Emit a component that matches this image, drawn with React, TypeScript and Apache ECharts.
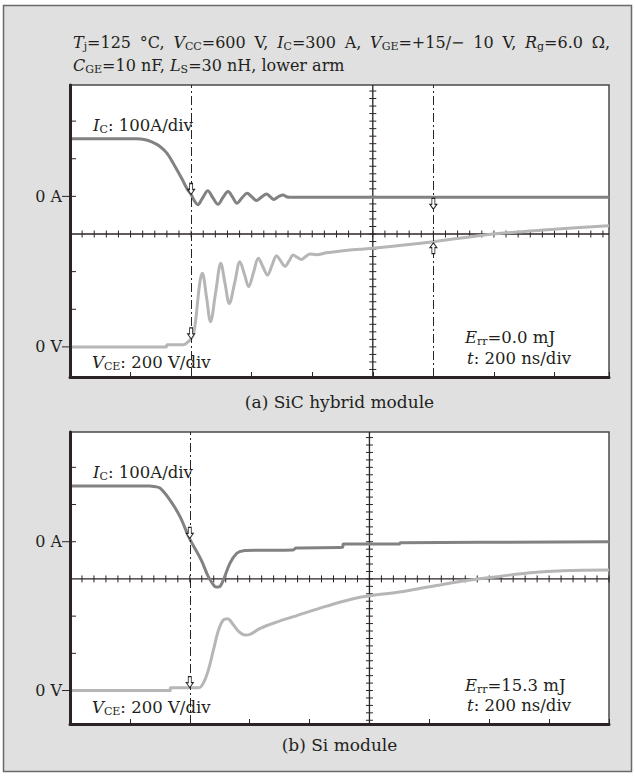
import React, { useEffect, useRef } from 'react';
import * as echarts from 'echarts';

const FONT = 'DejaVu Serif';
const INK = '#231f20';
const AXIS = '#2b2324';
const IC_COLOR = '#828282';
const VCE_COLOR = '#b6b6b6';

// ---------- data: time in ns (200 ns/div), IC in A (100 A/div), VCE in V (200 V/div)
// (a) SiC hybrid module
const timeRangeA = [-1000, 780];
const icA: number[][] = [
  [-1000, 153], [-780, 153], [-755, 151], [-730, 145], [-705, 134], [-680, 115], [-655, 82],
  [-630, 46], [-612, 18], [-600, 5], [-589, -12], [-578, -22], [-562, -4], [-545, 15],
  [-528, -4], [-511, -21], [-495, -3], [-478, 13], [-463, -2], [-449, -18], [-432, -4],
  [-415, 8], [-400, -1], [-384, -11], [-368, -2], [-351, 6], [-339, -1], [-327, -8],
  [-312, -1], [-296, 4], [-285, -1], [-274, -2.4], [780, -2.4],
];
const vceA: number[][] = [
  [-1000, 0], [-682, 0], [-680, 12], [-625, 12], [-612, 25], [-600, 42], [-592, 70],
  [-585, 140], [-578, 249], [-570, 355], [-563, 391], [-549, 262], [-536, 134], [-519, 289],
  [-502, 444], [-488, 337], [-474, 231], [-456, 342], [-439, 453], [-424, 386], [-410, 320],
  [-394, 395], [-378, 471], [-363, 426], [-348, 382], [-333, 433], [-318, 485], [-304, 456],
  [-290, 428], [-276, 458], [-263, 488], [-249, 476], [-236, 465], [-222, 480], [-208, 494],
  [-186, 490], [-153, 500], [-76, 515], [-43, 519], [0, 524], [200, 559], [397, 600],
  [600, 625], [780, 644],
];
const dashTimesA = [-600, 200];
const arrowsA = [
  { trace: 'ic', t: -600, v: 5, dir: 'down', side: 'above' },
  { trace: 'ic', t: 200, v: -2.4, dir: 'down', side: 'below' },
  { trace: 'vce', t: -600, v: 42, dir: 'down', side: 'above' },
  { trace: 'vce', t: 200, v: 559, dir: 'up', side: 'below' },
];
const errA = '0.0';

// (b) Si module
const timeRangeB = [-1000, 800];
const icB: number[][] = [
  [-1000, 150], [-735, 150], [-715, 148], [-699, 144], [-666, 112], [-633, 68], [-601, 9],
  [-562, -49], [-538, -94], [-521, -116], [-512, -122], [-501, -121], [-488, -103],
  [-466, -58], [-443, -31], [-421, -24], [-363, -23], [-255, -22], [-245, -17], [-90, -15],
  [-87, -6], [100, -6], [103, -3], [800, 0],
];
const vceB: number[][] = [
  [-1000, 0], [-666, 0], [-664, 15], [-570, 15], [-555, 39], [-538, 110], [-521, 218],
  [-504, 325], [-488, 379], [-473, 386], [-462, 370], [-454, 352], [-435, 315], [-415, 298],
  [-395, 305], [-365, 334], [-310, 368], [-254, 397], [-143, 454], [-31, 501], [100, 530],
  [202, 558], [336, 594], [440, 615], [536, 633], [647, 644], [800, 648],
];
const dashTimesB = [-600];
const arrowsB = [
  { trace: 'ic', t: -600, v: 9, dir: 'down', side: 'above' },
  { trace: 'vce', t: -600, v: 15, dir: 'down', side: 'above' },
];
const errB = '15.3';

const captions = ['(a) SiC hybrid module', '(b) Si module'];
const icPerDiv = 100;
const vcePerDiv = 200;
const icZeroDiv = 1;
const vceZeroDiv = -3;

const panels = [
  { range: timeRangeA, ic: icA, vce: vceA, dash: dashTimesA, arrows: arrowsA, err: errA },
  { range: timeRangeB, ic: icB, vce: vceB, dash: dashTimesB, arrows: arrowsB, err: errB },
];

// ---------- layout (pixels)
const layouts = [
  { top: 85, height: 292, divMin: -3.8, divMax: 3.96, captionY: 402, icY: 125, vceY: 362, errY: 337, tY: 358 },
  { top: 432, height: 292, divMin: -3.9, divMax: 3.95, captionY: 745, icY: 472, vceY: 707, errY: 685, tY: 705 },
];

const DOWN = 'path://M2,0L5,0L5,6L7,6L3.5,11L0,6L2,6Z';
const UP = 'path://M3.5,0L7,5L5,5L5,11L2,11L2,5L0,5Z';

function richFor(size: number) {
  return {
    n: { fontFamily: FONT, fontSize: size, fill: INK, lineHeight: 20 },
    i: { fontFamily: FONT, fontSize: size, fill: INK, fontStyle: 'italic', lineHeight: 20 },
    s: { fontFamily: FONT, fontSize: 11, fill: INK, lineHeight: 12, verticalAlign: 'bottom' },
    w: { fontFamily: FONT, fontSize: size, fill: INK, lineHeight: 20, width: 8.8 },
  };
}

function txt(x: number, y: number, text: string, align = 'left', size = 16.5) {
  return {
    type: 'text', x, y, z: 10,
    style: { text, rich: richFor(size), fontFamily: FONT, fontSize: size, fill: INK, align, verticalAlign: 'middle' },
  };
}

function arrowPoint(a: any) {
  return {
    coord: [a.t, a.v],
    symbol: a.dir === 'down' ? DOWN : UP,
    symbolSize: [7, 11],
    symbolOffset: [0, a.side === 'above' ? -5.5 : 6.5],
    itemStyle: { color: '#fff', borderColor: '#222', borderWidth: 1 },
  };
}

function buildOption() {
  const grid: any[] = [];
  const xAxis: any[] = [];
  const yAxis: any[] = [];
  const series: any[] = [];
  const W = '{w| }';
  const elements: any[] = [
    { type: 'rect', z: -100, shape: { x: 3.5, y: 5.5, width: 628, height: 766 },
      style: { fill: '#dfe0df', stroke: '#6a6a6a', lineWidth: 1.5 } },
    txt(73, 42, `{i|T}{s|j}{n|=125}${W}{n|°C,}${W}{i|V}{s|CC}{n|=600}${W}{n|V,}${W}{i|I}{s|C}{n|=300}${W}{n|A,}${W}{i|V}{s|GE}{n|=+15/−}${W}{n|10}${W}{n|V,}${W}{i|R}{s|g}{n|=6.0}${W}{n|Ω,}`, 'left', 16),
    txt(73, 65, '{i|C}{s|GE}{n|=10 nF, }{i|L}{s|S}{n|=30 nH, lower arm}', 'left', 16),
  ];

  panels.forEach((p, g) => {
    const L = layouts[g];
    grid.push({ left: 70, top: L.top, width: 539, height: L.height, show: true,
      backgroundColor: '#ffffff', borderColor: '#4a4a4a', borderWidth: 1.5 });
    xAxis.push({
      type: 'value', gridIndex: g, min: p.range[0], max: p.range[1], interval: 200, z: 5,
      axisLine: { show: true, onZero: false, lineStyle: { color: AXIS, width: 3 } },
      axisTick: { show: true, inside: true, length: 5, lineStyle: { color: AXIS, width: 1 } },
      axisLabel: { show: false }, splitLine: { show: false },
    });
    const yb = yAxis.length;
    yAxis.push({
      type: 'value', gridIndex: g, min: L.divMin, max: L.divMax, position: 'left', z: 5,
      axisLine: { show: true, onZero: false, lineStyle: { color: AXIS, width: 3 } },
      axisTick: { show: false }, axisLabel: { show: false }, splitLine: { show: false },
    });
    yAxis.push({ type: 'value', gridIndex: g, show: false,
      min: (L.divMin - icZeroDiv) * icPerDiv, max: (L.divMax - icZeroDiv) * icPerDiv });
    yAxis.push({ type: 'value', gridIndex: g, show: false,
      min: (L.divMin - vceZeroDiv) * vcePerDiv, max: (L.divMax - vceZeroDiv) * vcePerDiv });

    // graticule: centre cross with 0.2 div ticks, left-edge ticks, 0 A / 0 V labels
    series.push({
      type: 'custom', xAxisIndex: g, yAxisIndex: yb, data: [[0, 0]], silent: true, z: 1, clip: false,
      renderItem: (params: any, api: any) => {
        const kids: any[] = [];
        const ln = (x1: number, y1: number, x2: number, y2: number, w = 1) =>
          kids.push({ type: 'line', shape: { x1, y1, x2, y2 }, style: { stroke: AXIS, lineWidth: w } });
        const [xl, yc] = api.coord([p.range[0], 0]);
        const [xr] = api.coord([p.range[1], 0]);
        const [xc, yt] = api.coord([0, L.divMax]);
        const [, ybt] = api.coord([0, L.divMin]);
        ln(xl, yc, xr, yc, 1.3);
        ln(xc, yt, xc, ybt, 1.3);
        const step = 200 / 5;
        for (let k = Math.ceil(p.range[0] / step); k * step <= p.range[1]; k++) {
          const [x] = api.coord([k * step, 0]);
          ln(x, yc - 3.5, x, yc + 3.5, 1);
        }
        for (let k = Math.ceil(L.divMin / 0.2 - 1e-9); k * 0.2 <= L.divMax + 1e-9; k++) {
          const [, y] = api.coord([0, k * 0.2]);
          ln(xc - 3.5, y, xc + 3.5, y, 1);
        }
        for (let d = -3; d <= 3; d++) {
          if (d === 0) continue;
          const [, y] = api.coord([p.range[0], d]);
          const lab = d === icZeroDiv || d === vceZeroDiv;
          ln(lab ? xl - 8 : xl, y, xl + 6, y, 1);
          if (lab) {
            kids.push({ type: 'text', x: xl - 8, y,
              style: { text: d === icZeroDiv ? '0 A' : '0 V', fill: INK, fontFamily: FONT,
                fontSize: 16, align: 'right', verticalAlign: 'middle' } });
          }
        }
        return { type: 'group', children: kids };
      },
    });

    series.push({
      type: 'line', name: 'IC', xAxisIndex: g, yAxisIndex: yb + 1, data: p.ic,
      showSymbol: false, smooth: 0.35, z: 3,
      lineStyle: { color: IC_COLOR, width: 3 },
      markLine: {
        silent: true, symbol: ['none', 'none'], label: { show: false },
        lineStyle: { color: AXIS, width: 1, type: [9, 3, 2, 3] },
        data: p.dash.map((t) => ({ xAxis: t })),
      },
      markPoint: {
        silent: true, label: { show: false },
        data: p.arrows.filter((a) => a.trace === 'ic').map(arrowPoint),
      },
    });
    series.push({
      type: 'line', name: 'VCE', xAxisIndex: g, yAxisIndex: yb + 2, data: p.vce,
      showSymbol: false, smooth: 0.35, z: 3,
      lineStyle: { color: VCE_COLOR, width: 3 },
      markPoint: {
        silent: true, label: { show: false },
        data: p.arrows.filter((a) => a.trace === 'vce').map(arrowPoint),
      },
    });

    elements.push(txt(339.5, L.captionY, `{n|${captions[g]}}`, 'center', 17));
    elements.push(txt(93, L.icY, '{i|I}{s|C}{n|: 100A/div}'));
    elements.push(txt(92, L.vceY, '{i|V}{s|CE}{n|: 200 V/div}'));
    elements.push(txt(465, L.errY, `{i|E}{s|rr}{n|=${p.err} mJ}`));
    elements.push(txt(467, L.tY, '{i|t}{n|: 200 ns/div}'));
  });

  return {
    animation: false,
    backgroundColor: '#ffffff',
    grid, xAxis, yAxis, series,
    graphic: { elements },
  };
}

export default function App() {
  const ref = useRef<HTMLDivElement>(null);
  useEffect(() => {
    if (!ref.current) return;
    const chart = echarts.init(ref.current, null, { renderer: 'svg' });
    chart.setOption(buildOption() as any);
    return () => chart.dispose();
  }, []);
  return (
    <div ref={ref} style={{ position: 'absolute', left: 0, top: 0, width: 635, height: 776 }} />
  );
}
